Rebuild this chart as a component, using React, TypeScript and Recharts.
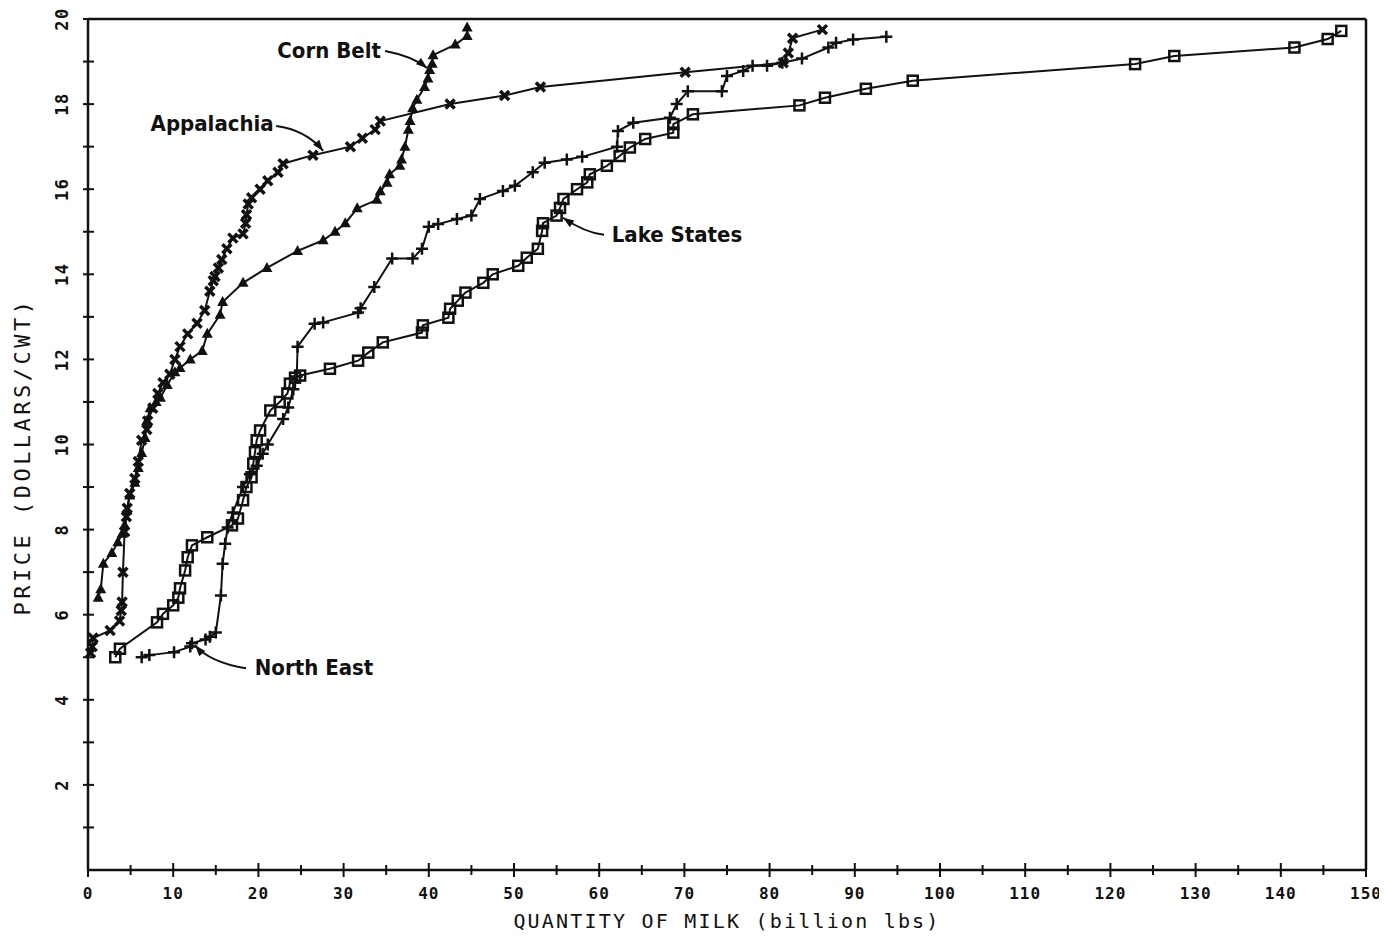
import React from "react";
import { LineChart, Line, XAxis, YAxis, ReferenceLine, ReferenceDot, Label } from "recharts";

// quantity (billion lbs) / price ($/cwt) pairs
const cornBeltQty = [1.2, 1.5, 1.8, 2.8, 3.5, 4.0, 4.3, 4.6, 4.9, 5.5, 5.9, 6.3, 6.7, 6.9, 7.3, 8.0, 8.5, 9.3, 10.2, 10.8, 12.0, 13.4, 14.0, 15.5, 15.8, 18.2, 21.0, 24.6, 27.6, 29.0, 30.2, 31.6, 33.9, 34.3, 35.1, 35.4, 36.6, 36.8, 37.2, 37.6, 37.8, 38.1, 38.6, 39.5, 39.9, 40.1, 40.4, 40.5, 43.1, 44.5, 44.5];
const cornBeltPrice = [6.4, 6.6, 7.2, 7.45, 7.7, 7.9, 8.1, 8.45, 8.8, 9.1, 9.45, 9.8, 10.15, 10.55, 10.85, 11.0, 11.1, 11.4, 11.7, 11.8, 12.0, 12.2, 12.6, 13.05, 13.35, 13.8, 14.15, 14.55, 14.8, 15.0, 15.2, 15.55, 15.75, 15.95, 16.15, 16.35, 16.55, 16.7, 17.0, 17.4, 17.6, 17.9, 18.1, 18.4, 18.6, 18.8, 18.95, 19.15, 19.4, 19.6, 19.8];

const appalachiaQty = [0.3, 0.5, 0.6, 2.6, 3.7, 3.9, 4.0, 4.1, 4.3, 4.5, 4.6, 4.9, 5.5, 5.9, 6.3, 6.9, 7.0, 7.6, 8.2, 8.8, 9.6, 10.2, 10.8, 11.7, 12.8, 13.7, 14.3, 14.7, 14.9, 15.3, 15.7, 16.3, 17.0, 18.2, 18.5, 18.6, 18.8, 19.2, 20.2, 21.1, 22.3, 22.9, 26.4, 30.8, 32.2, 33.7, 34.3, 42.5, 48.9, 53.1, 70.1, 81.6, 82.2, 82.7, 86.2];
const appalachiaPrice = [5.1, 5.25, 5.45, 5.63, 5.85, 6.1, 6.3, 7.0, 7.95, 8.3, 8.5, 8.85, 9.2, 9.6, 10.1, 10.35, 10.55, 10.85, 11.2, 11.45, 11.65, 12.0, 12.3, 12.6, 12.85, 13.15, 13.6, 13.85, 13.95, 14.15, 14.35, 14.6, 14.85, 14.95, 15.2, 15.4, 15.65, 15.8, 16.0, 16.2, 16.4, 16.6, 16.8, 17.0, 17.2, 17.4, 17.6, 18.0, 18.2, 18.4, 18.75, 18.97, 19.2, 19.55, 19.75];

const northEastQty = [6.3, 7.2, 10.1, 12.0, 12.2, 13.8, 14.3, 15.0, 15.6, 15.8, 16.1, 16.4, 17.0, 18.2, 19.0, 19.8, 20.5, 21.1, 22.9, 23.5, 24.1, 24.5, 24.6, 26.6, 27.6, 31.7, 32.0, 33.6, 35.7, 38.1, 39.2, 40.0, 41.1, 43.3, 45.0, 46.0, 48.7, 50.1, 52.2, 53.6, 56.2, 58.0, 62.1, 62.2, 64.0, 68.3, 69.1, 70.4, 74.4, 75.0, 76.9, 78.0, 79.7, 81.5, 83.8, 86.9, 87.8, 89.8, 93.7];
const northEastPrice = [5.0, 5.05, 5.12, 5.25, 5.33, 5.42, 5.48, 5.58, 6.45, 7.2, 7.67, 8.05, 8.4, 9.0, 9.3, 9.5, 9.78, 10.0, 10.6, 10.87, 11.3, 11.6, 12.3, 12.84, 12.87, 13.1, 13.2, 13.7, 14.37, 14.37, 14.6, 15.12, 15.18, 15.3, 15.38, 15.77, 15.96, 16.08, 16.4, 16.62, 16.7, 16.76, 17.0, 17.37, 17.56, 17.68, 18.0, 18.3, 18.3, 18.66, 18.78, 18.9, 18.9, 18.97, 19.07, 19.33, 19.44, 19.52, 19.58];

const lakeStatesQty = [3.2, 3.75, 8.1, 8.8, 10.0, 10.6, 10.8, 11.4, 11.7, 12.2, 14.0, 16.9, 17.6, 18.2, 18.6, 19.2, 19.4, 19.6, 19.8, 20.2, 21.4, 22.5, 23.4, 23.7, 24.3, 24.9, 28.4, 31.7, 32.9, 34.6, 39.2, 39.3, 42.3, 42.5, 43.4, 44.3, 46.4, 47.5, 50.5, 51.5, 52.8, 53.3, 53.4, 55.0, 55.4, 55.8, 57.4, 58.6, 58.9, 60.9, 62.4, 63.6, 65.4, 68.7, 68.7, 71.0, 83.5, 86.5, 91.3, 96.8, 122.9, 127.5, 141.6, 145.5, 147.1];
const lakeStatesPrice = [5.0, 5.2, 5.82, 6.02, 6.22, 6.4, 6.62, 7.04, 7.35, 7.63, 7.82, 8.1, 8.26, 8.69, 9.0, 9.23, 9.55, 9.82, 10.1, 10.33, 10.8, 11.0, 11.2, 11.43, 11.57, 11.62, 11.78, 11.97, 12.16, 12.4, 12.63, 12.8, 12.98, 13.19, 13.38, 13.57, 13.8, 14.0, 14.2, 14.39, 14.6, 15.02, 15.2, 15.38, 15.56, 15.77, 16.0, 16.16, 16.35, 16.55, 16.78, 16.98, 17.18, 17.33, 17.53, 17.76, 17.97, 18.15, 18.36, 18.55, 18.94, 19.13, 19.33, 19.53, 19.72];

const xTicks = [0, 5, 10, 15, 20, 25, 30, 35, 40, 45, 50, 55, 60, 65, 70, 75, 80, 85, 90, 95, 100, 105, 110, 115, 120, 125, 130, 135, 140, 145, 150];
const yTicks = [1, 2, 3, 4, 5, 6, 7, 8, 9, 10, 11, 12, 13, 14, 15, 16, 17, 18, 19, 20];

const INK = "#111";
const MONO = "'DejaVu Sans Mono', monospace";
const LABEL_FONT = "'DejaVu Sans Condensed', 'Liberation Sans Narrow', 'DejaVu Sans', sans-serif";

const toPoints = (xs: number[], ys: number[]) => xs.map((x, i) => ({ x, y: ys[i] }));

const cornBelt = toPoints(cornBeltQty, cornBeltPrice);
const appalachia = toPoints(appalachiaQty, appalachiaPrice);
const northEast = toPoints(northEastQty, northEastPrice);
const lakeStates = toPoints(lakeStatesQty, lakeStatesPrice);

// marker shapes
const triDot = (p: any) => (
  <polygon key={p.index} points={`${p.cx},${p.cy - 6} ${p.cx - 5.5},${p.cy + 4} ${p.cx + 5.5},${p.cy + 4}`} fill={INK} />
);
const crossDot = (p: any) => (
  <path key={p.index} d={`M${p.cx - 4.5},${p.cy - 4.5}L${p.cx + 4.5},${p.cy + 4.5}M${p.cx + 4.5},${p.cy - 4.5}L${p.cx - 4.5},${p.cy + 4.5}`} stroke={INK} strokeWidth={3.5} />
);
const squareDot = (p: any) => (
  <rect key={p.index} x={p.cx - 5} y={p.cy - 5} width={10} height={10} fill="none" stroke={INK} strokeWidth={2.5} />
);
const plusDot = (p: any) => (
  <path key={p.index} d={`M${p.cx - 6},${p.cy}L${p.cx + 6},${p.cy}M${p.cx},${p.cy - 6}L${p.cx},${p.cy + 6}`} stroke={INK} strokeWidth={2.5} />
);

function XTick({ x, y, payload }: any) {
  const v = payload.value;
  const major = v % 10 === 0;
  const h = major ? 7 : 5;
  return (
    <g>
      <line x1={x} x2={x} y1={y - h} y2={y + h} stroke={INK} strokeWidth={2} />
      {major && (
        <text x={x} y={y + 23} textAnchor="middle" dominantBaseline="central" fontFamily={MONO} fontWeight="bold" fontSize={16} letterSpacing={1} fill={INK}>
          {v}
        </text>
      )}
    </g>
  );
}

function YTick({ x, y, payload }: any) {
  const v = payload.value;
  const major = v % 2 === 0;
  const tx = x - 26;
  return (
    <g>
      <line x1={x - 5} x2={x + 6} y1={y} y2={y} stroke={INK} strokeWidth={2} />
      {major && (
        <text x={tx} y={y} transform={`rotate(-90 ${tx} ${y})`} textAnchor="middle" dominantBaseline="central" fontFamily={MONO} fontWeight="bold" fontSize={17} letterSpacing={1.5} fill={INK}>
          {v}
        </text>
      )}
    </g>
  );
}

// curved leader from a label to the curve; (0,0) is the arrow tip
function Callout({ cx, cy, text, tx, ty, sx, sy, qx, qy }: any) {
  const len = Math.hypot(qx, qy);
  const dx = -qx / len;
  const dy = -qy / len;
  const bx = -dx * 11;
  const by = -dy * 11;
  const head = `0,0 ${bx - dy * 4},${by + dx * 4} ${bx + dy * 4},${by - dx * 4}`;
  return (
    <g transform={`translate(${cx},${cy})`}>
      <path d={`M${sx},${sy}Q${qx},${qy} 0,0`} fill="none" stroke={INK} strokeWidth={2} />
      <polygon points={head} fill={INK} />
      <text x={tx} y={ty} textAnchor="middle" dominantBaseline="central" fontFamily={LABEL_FONT} fontWeight="bold" fontSize={22} fill={INK}>
        {text}
      </text>
    </g>
  );
}

const renderYTitle = (props: any) => {
  const vb = props.viewBox;
  const cx = vb.x + 14;
  const cy = vb.y + vb.height / 2 + 12;
  return (
    <text x={cx} y={cy} transform={`rotate(-90 ${cx} ${cy})`} textAnchor="middle" dominantBaseline="central" fontFamily={MONO} fontSize={22} letterSpacing={3.5} fill={INK}>
      PRICE (DOLLARS/CWT)
    </text>
  );
};

const renderXTitle = (props: any) => {
  const vb = props.viewBox;
  return (
    <text x={vb.x + vb.width / 2} y={vb.y + 51} textAnchor="middle" dominantBaseline="central" fontFamily={MONO} fontSize={20} letterSpacing={2.2} fill={INK}>
      QUANTITY OF MILK (billion lbs)
    </text>
  );
};

export default function App() {
  return (
    <div style={{ width: 1379, height: 924, background: "#fff" }}>
      <style>{"html, body { overflow: hidden; }"}</style>
      <LineChart width={1379} height={924} margin={{ top: 11, right: 21, bottom: 0, left: 0 }} style={{ overflow: "visible" }}>
        <XAxis
          type="number"
          dataKey="x"
          domain={[0, 150]}
          ticks={xTicks}
          interval={0}
          tick={<XTick />}
          tickLine={false}
          tickSize={0}
          tickMargin={0}
          height={62}
          axisLine={{ stroke: INK, strokeWidth: 2.5 }}
        >
          <Label content={renderXTitle} />
        </XAxis>
        <YAxis
          type="number"
          dataKey="y"
          domain={[0, 20]}
          ticks={yTicks}
          interval={0}
          tick={<YTick />}
          tickLine={false}
          tickSize={0}
          tickMargin={0}
          width={80}
          axisLine={{ stroke: INK, strokeWidth: 2.5 }}
        >
          <Label content={renderYTitle} />
        </YAxis>
        <ReferenceLine y={20} stroke={INK} strokeWidth={2.5} />
        <ReferenceLine x={150} stroke={INK} strokeWidth={2.5} />

        <Line data={lakeStates} dataKey="y" stroke={INK} strokeWidth={2} dot={squareDot} isAnimationActive={false} />
        <Line data={northEast} dataKey="y" stroke={INK} strokeWidth={2} dot={plusDot} isAnimationActive={false} />
        <Line data={cornBelt} dataKey="y" stroke={INK} strokeWidth={2} dot={triDot} isAnimationActive={false} />
        <Line data={appalachia} dataKey="y" stroke={INK} strokeWidth={2} dot={crossDot} isAnimationActive={false} />

        <ReferenceDot x={39.8} y={18.85} ifOverflow="visible" shape={(p: any) => <Callout cx={p.cx} cy={p.cy} text="Corn Belt" tx={-98} ty={-17} sx={-42} sy={-17} qx={-15} qy={-12} />} />
        <ReferenceDot x={27.6} y={16.9} ifOverflow="visible" shape={(p: any) => <Callout cx={p.cx} cy={p.cy} text="Appalachia" tx={-111} ty={-27} sx={-47} sy={-25} qx={-17} qy={-21} />} />
        <ReferenceDot x={55.75} y={15.33} ifOverflow="visible" shape={(p: any) => <Callout cx={p.cx} cy={p.cy} text="Lake States" tx={114} ty={17} sx={41} sy={17} qx={22} qy={15} />} />
        <ReferenceDot x={12.56} y={5.28} ifOverflow="visible" shape={(p: any) => <Callout cx={p.cx} cy={p.cy} text="North East" tx={119} ty={22} sx={51} sy={23} qx={15} qy={17} />} />
      </LineChart>
    </div>
  );
}
